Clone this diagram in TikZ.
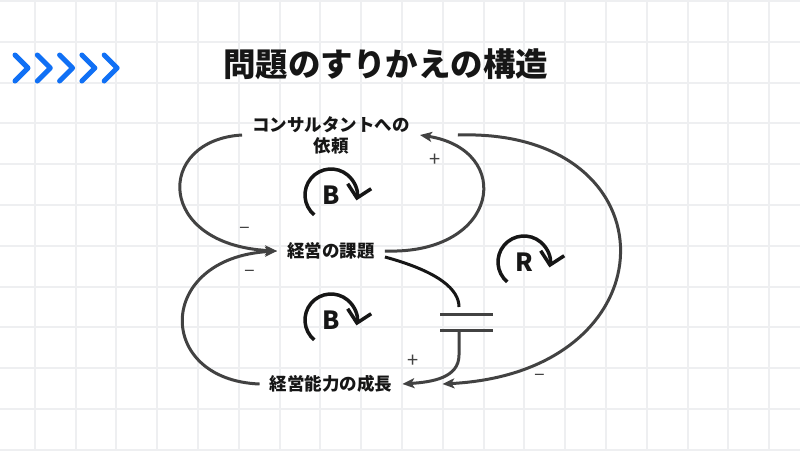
\documentclass[tikz,border=0pt]{standalone}
\usepackage{fontspec}
\setmainfont{Noto Sans CJK JP}
\usetikzlibrary{arrows.meta}
\usepackage{xcolor}
\definecolor{gridgray}{RGB}{238,239,241}
\definecolor{linkgray}{RGB}{66,66,66}
\definecolor{chevblue}{RGB}{16,112,245}
\definecolor{inkblack}{RGB}{22,22,22}

\begin{document}
\begin{tikzpicture}[x=1pt, y=-1pt,
    gridline/.style={draw=gridgray, line width=2pt},
    chevron/.style={draw=chevblue, line width=5pt, line cap=round, line join=round},
    headline/.style={font=\fontsize{32.5}{34}\selectfont\bfseries, text=inkblack},
    var/.style={font=\fontsize{17.5}{21}\selectfont\bfseries, text=inkblack, inner sep=10pt, align=center},
    link/.style={draw=linkgray, line width=3pt, -{Stealth[length=12pt,width=10pt,inset=3pt]}},
    delayline/.style={draw=inkblack, line width=3pt},
    delaymark/.style={draw=linkgray, line width=3pt},
    sign/.style={font=\fontsize{20}{20}\selectfont, text=linkgray},
    loopmark/.style={font=\fontsize{25}{25}\selectfont\bfseries, text=inkblack},
    looparrow/.style={draw=inkblack, line width=3.5pt, -{Straight Barb[length=12pt,width=24pt]}}]
    
    % Background and grid
    \fill[white] (0,0) rectangle (800,450);
    \useasboundingbox (0,0) rectangle (800,450);
    \foreach \gx in {0,...,18} \draw[gridline] (34.7+40.8*\gx,0) -- (34.7+40.8*\gx,450);
    \foreach \gy in {0,...,11} \draw[gridline] (0,1+40.8*\gy) -- (800,1+40.8*\gy);
    
    % Header
    \foreach \i in {0,...,4} \draw[chevron] (15+22.3*\i,55) -- (28+22.3*\i,68) -- (15+22.3*\i,81);
    \node[headline] (title) at (385.5,64.5) {問題のすりかえの構造};
    
    % Variables
    \node[var] (consult) at (331,135) {コンサルタントへの\\依頼};
    \node[var] (issue) at (331,251) {経営の課題};
    \node[var] (growth) at (331,384) {経営能力の成長};
    \coordinate (delaytop) at (459,307);
    \coordinate (delaybot) at (459,331);
    
    % Links
    \draw[link] (consult.west) .. controls (155,140) and (155,245) .. (issue.west);
    \draw[link] (issue.east) .. controls (500,255) and (515,150) .. (consult.east);
    \draw[link] (growth.west) .. controls (155,380) and (155,258) .. (issue.west);
    \draw[link] ([xshift=38pt]consult.east) .. controls (676,128) and (676,372) .. ([xshift=40pt]growth.east);
    
    % Delay
    \draw[delayline] ([yshift=-6pt]issue.east) .. controls (440,272) and (459,290) .. (delaytop);
    \draw[delaymark] (440,314) -- (493,314) (440,330) -- (493,330);
    \draw[link] (delaybot) -- (459,355) .. controls (459,378) and (432,382) .. (growth.east);
    
    % Polarities
    \node[sign] (plusA) at (435,160) {+};
    \node[sign] (minusA) at (245,230) {–};
    \node[sign] (minusB) at (250,273) {–};
    \node[sign] (plusB) at (413,361) {+};
    \node[sign] (minusR) at (540,377) {–};
    
    % Loop markers
    \node[loopmark] (loopB1) at (331,195) {B};
    \draw[looparrow] ([shift={(130:26)}]loopB1.center) arc[start angle=130, end angle=372, radius=26];
    \node[loopmark] (loopB2) at (331,320) {B};
    \draw[looparrow] ([shift={(130:26)}]loopB2.center) arc[start angle=130, end angle=372, radius=26];
    \node[loopmark] (loopR) at (524,262) {R};
    \draw[looparrow] ([shift={(130:26)}]loopR.center) arc[start angle=130, end angle=372, radius=26];
\end{tikzpicture}
\end{document}
